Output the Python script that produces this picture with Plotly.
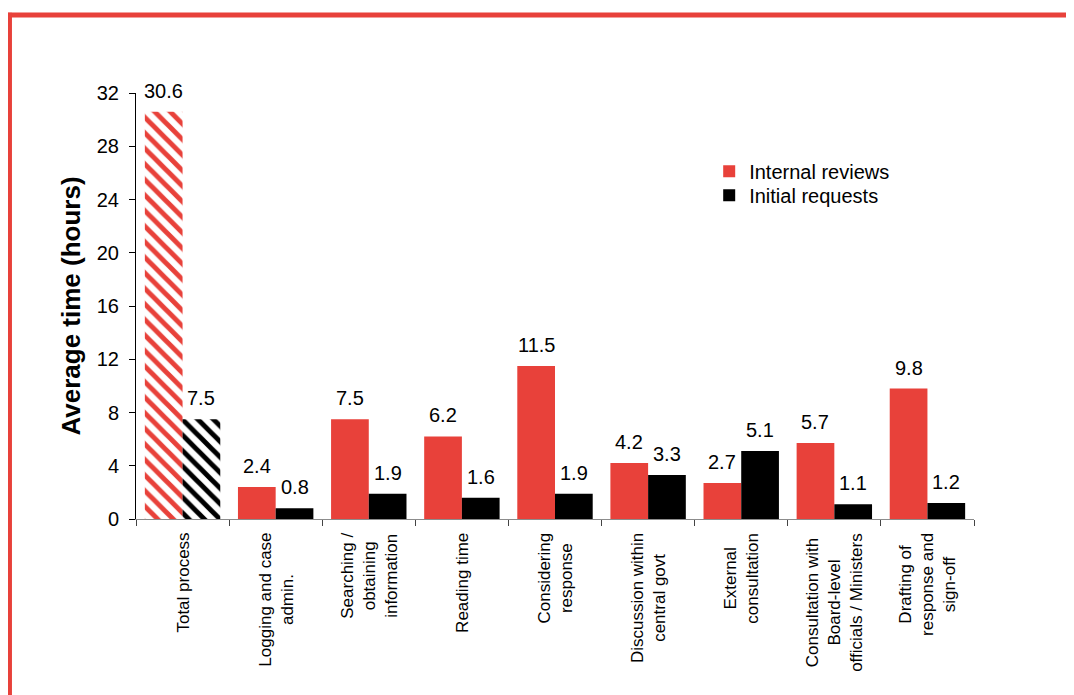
import plotly.graph_objects as go

# categories and values
categories = [
    "Total process",
    "Logging and case<br>admin.",
    "Searching /<br>obtaining<br>information",
    "Reading time",
    "Considering<br>response",
    "Discussion within<br>central govt",
    "External<br>consultation",
    "Consultation with<br>Board-level<br>officials / Ministers",
    "Drafting of<br>response and<br>sign-off",
]
internal_reviews = [30.6, 2.4, 7.5, 6.2, 11.5, 4.2, 2.7, 5.7, 9.8]
initial_requests = [7.5, 0.8, 1.9, 1.6, 1.9, 3.3, 5.1, 1.1, 1.2]

RED = "#E8413A"
BLACK = "#000000"
FONT = "Liberation Sans, Arial, sans-serif"
BARGAP = 0.19
PLOT_W = 838  # plot area width in px

fig = go.Figure()

# hatched "Total process" bars, solid bars for the rest
series = [
    ("Internal reviews", internal_reviews, RED, "int", -1, "legend"),
    ("Initial requests", initial_requests, BLACK, "init", 1, "legend2"),
]
half_bar = PLOT_W / len(categories) * (1 - BARGAP) / 4
for name, vals, col, grp, side, leg in series:
    fig.add_trace(go.Bar(
        x=categories[:1], y=vals[:1], offsetgroup=grp, showlegend=False,
        marker=dict(color=col, line_width=0,
                    pattern=dict(shape="\\", fgcolor=col, bgcolor="white",
                                 size=11, solidity=0.45, fillmode="replace")),
    ))
    fig.add_trace(go.Bar(
        x=categories[1:], y=vals[1:], offsetgroup=grp, name=name, legend=leg,
        marker=dict(color=col, line_width=0),
    ))
    # value labels above each bar
    for c, v in zip(categories, vals):
        fig.add_annotation(x=c, y=v, xref="x", yref="y", showarrow=False,
                           text=f"{v:.1f}", xshift=side * half_bar, yshift=8,
                           yanchor="bottom", xanchor="center",
                           font=dict(size=20, color="black", family=FONT))

# category labels, centred multi-line, rotated
for c in categories:
    fig.add_annotation(x=c, xref="x", y=0, yref="paper", yshift=-12,
                       yanchor="top", xanchor="center", textangle=-90,
                       align="center", showarrow=False, text=c,
                       font=dict(size=17, color="black", family=FONT))

# red frame lines (top and left)
fig.add_shape(type="line", xref="paper", yref="paper",
              x0=-0.1539, x1=1.13, y0=1.1831, y1=1.1831,
              line=dict(color=RED, width=5))
fig.add_shape(type="line", xref="paper", yref="paper",
              x0=-0.151, x1=-0.151, y0=-0.43, y1=1.1885,
              line=dict(color=RED, width=5))

legend_style = dict(xanchor="left", yanchor="top",
                    font=dict(size=20, family=FONT),
                    bgcolor="rgba(0,0,0,0)")
fig.update_layout(
    width=1066, height=687,
    margin=dict(l=128, r=100, t=85, b=176),
    paper_bgcolor="white", plot_bgcolor="white",
    barmode="group", bargap=BARGAP, bargroupgap=0,
    font=dict(family=FONT, color="black"),
    legend=dict(x=0.684, y=0.862, **legend_style),
    legend2=dict(x=0.684, y=0.806, **legend_style),
)
fig.update_xaxes(
    type="category", showticklabels=False, showgrid=False,
    showline=True, linecolor="#8c8c8c", linewidth=1,
    ticks="outside", tickson="boundaries", ticklen=6, tickcolor="#444",
)
fig.update_yaxes(
    range=[0, 32], dtick=4, tick0=0, showgrid=False, zeroline=False,
    showline=True, linecolor="black", linewidth=1,
    ticks="outside", ticklen=6, tickcolor="black",
    tickfont=dict(size=20, family=FONT), ticklabelstandoff=6,
    title=dict(text="<b>Average time (hours)</b>", standoff=8,
               font=dict(size=26, family=FONT)),
)

fig.write_html("out.html")
